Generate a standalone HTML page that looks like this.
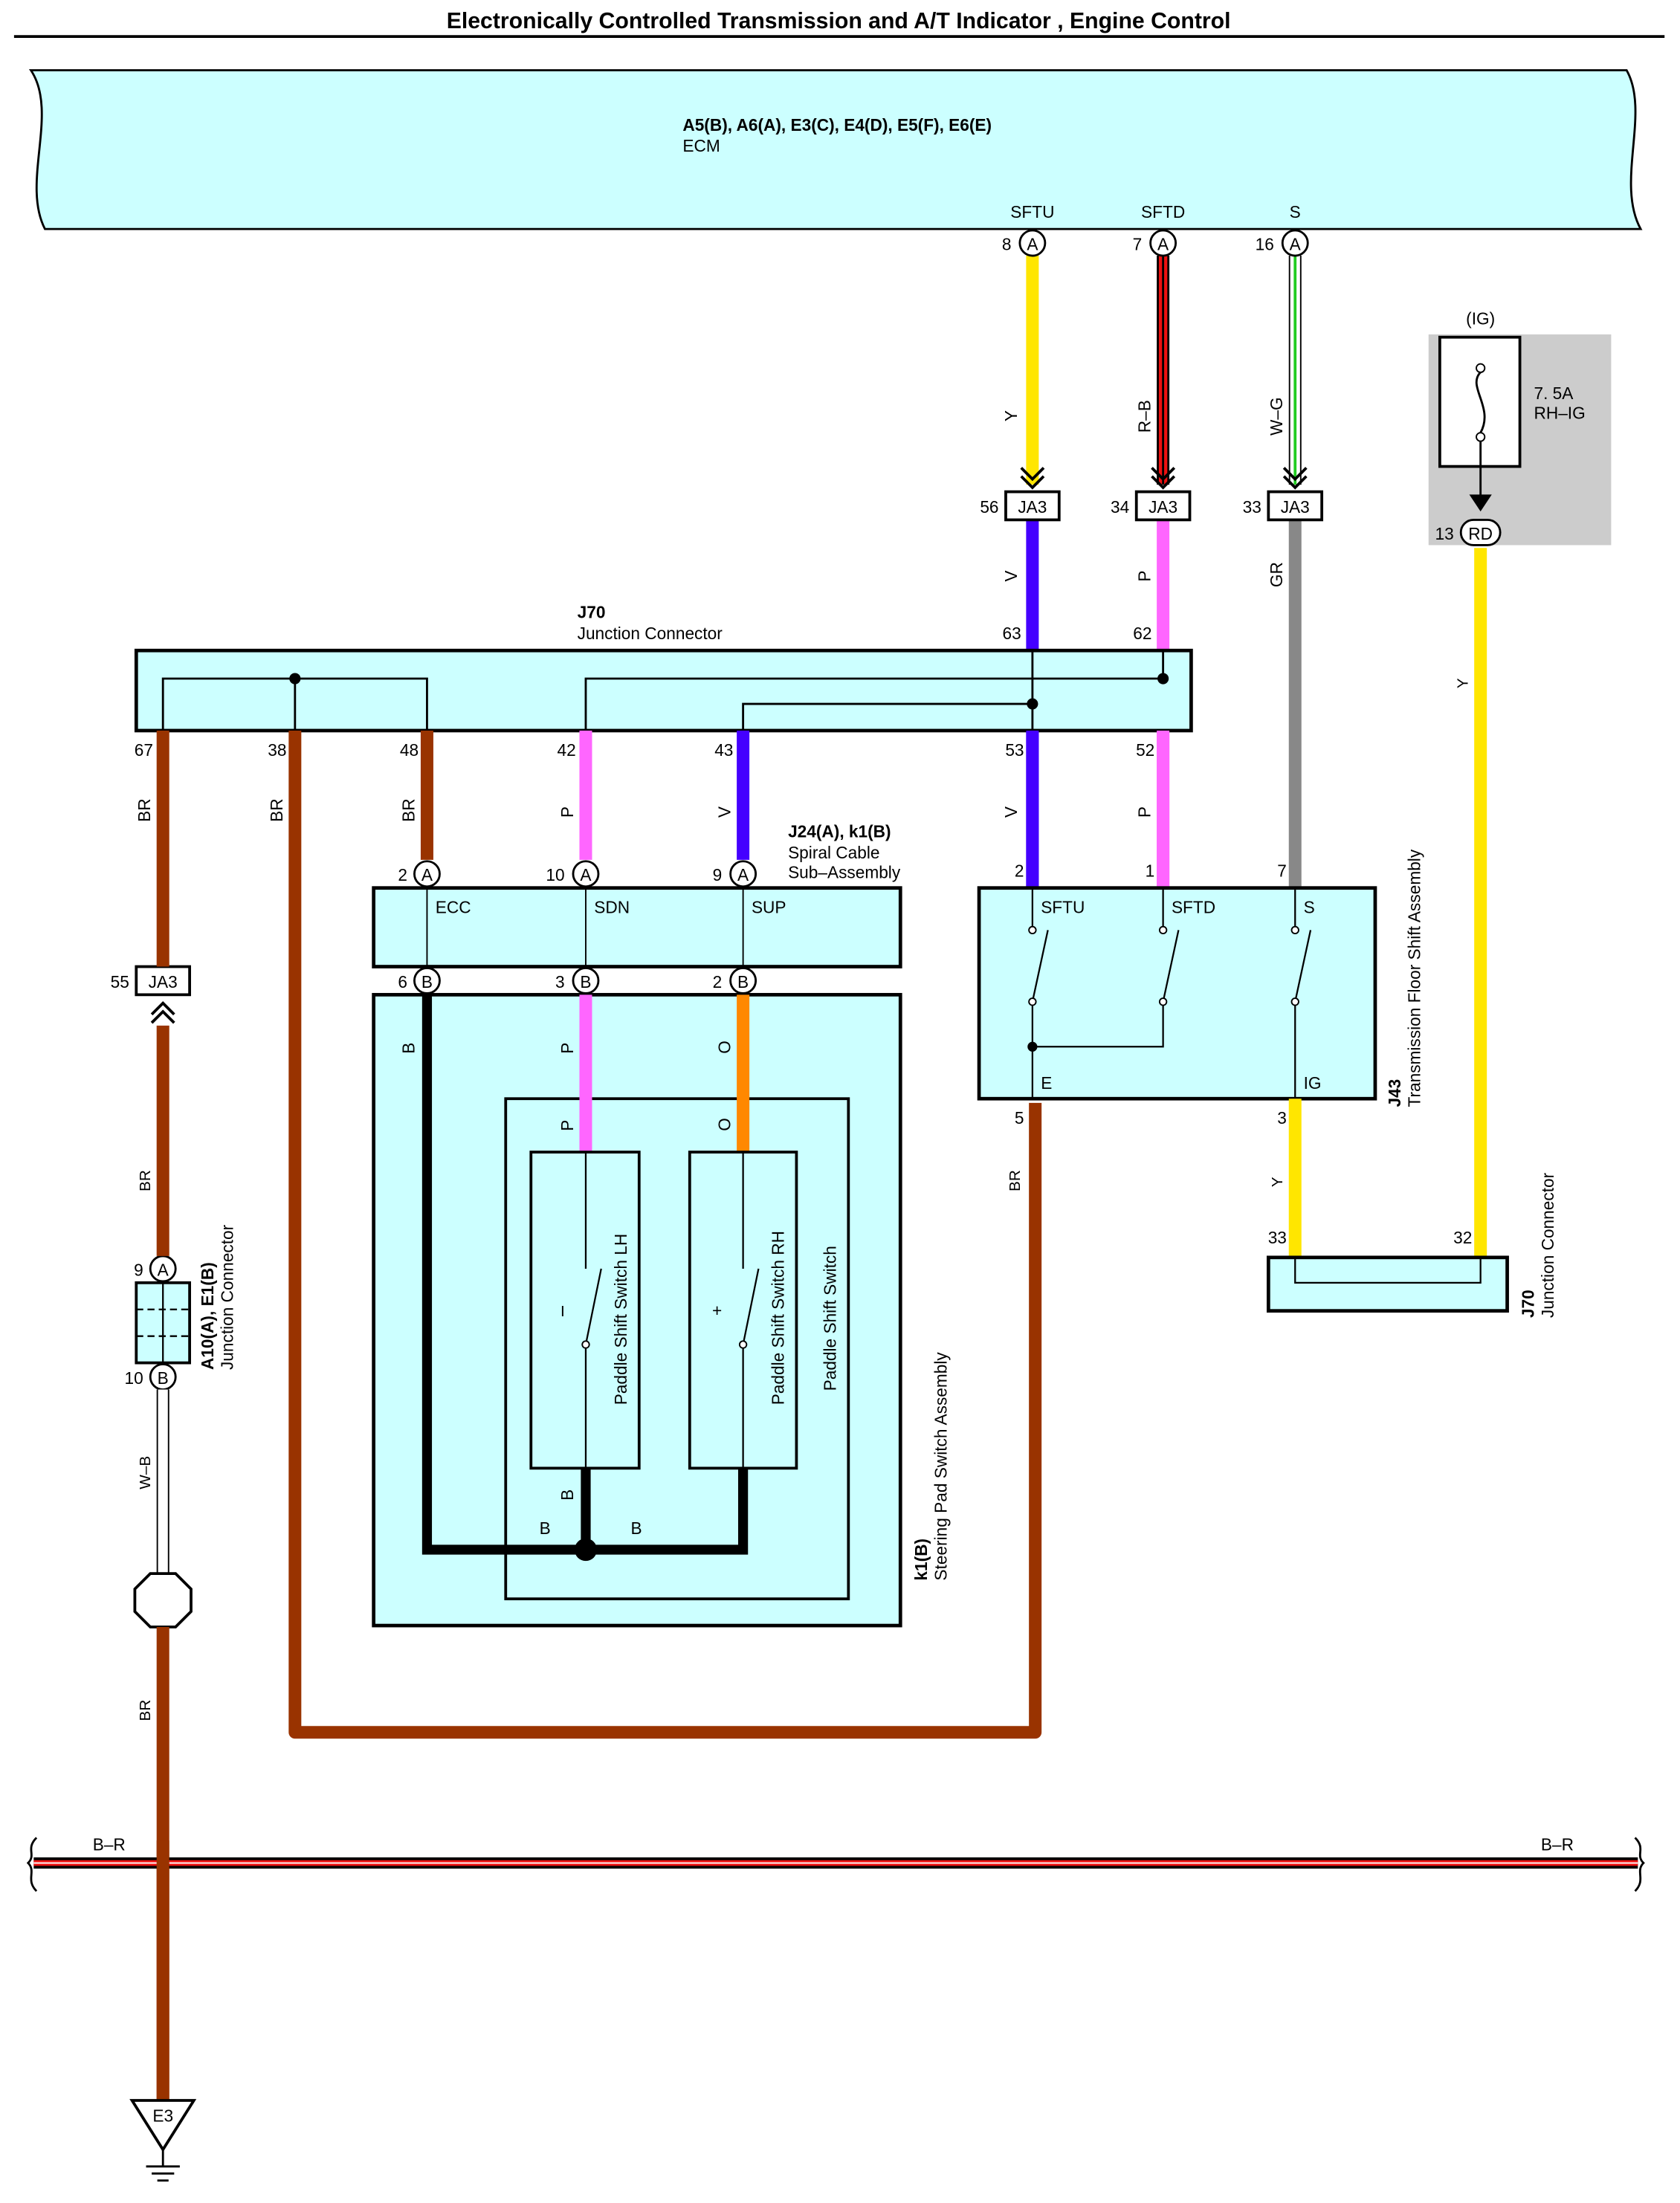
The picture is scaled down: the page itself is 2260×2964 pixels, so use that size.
<!DOCTYPE html>
<html><head><meta charset="utf-8"><style>
html,body{margin:0;padding:0;background:#fff;}
svg{display:block;}
text{font-family:"Liberation Sans",Arial,sans-serif;font-size:12px;fill:#000;}
.b{font-weight:bold;}
</style></head><body>
<svg width="2260" height="2964" viewBox="0 0 1196 1568" preserveAspectRatio="none" xmlns="http://www.w3.org/2000/svg">
<text x="597" y="20" text-anchor="middle" class="b" style="font-size:16px">Electronically Controlled Transmission and A/T Indicator , Engine Control</text>
<line x1="10" y1="26" x2="1185" y2="26" stroke="#000" stroke-width="2"/>
<path d="M32,50 L1158,50 C1175,80 1150,130 1168,163 L32,163 C15,130 42,80 22,50 Z" fill="#ccffff" stroke="#000" stroke-width="1.5"/>
<text x="486" y="93" class="b">A5(B), A6(A), E3(C), E4(D), E5(F), E6(E)</text>
<text x="486" y="108">ECM</text>
<text x="735" y="155" text-anchor="middle">SFTU</text>
<text x="828" y="155" text-anchor="middle">SFTD</text>
<text x="922" y="155" text-anchor="middle">S</text>
<line x1="735" y1="182" x2="735" y2="345" stroke="#ffe600" stroke-width="9"/>
<line x1="828" y1="182" x2="828" y2="345" stroke="#000" stroke-width="9"/>
<line x1="828" y1="182" x2="828" y2="345" stroke="#ee1111" stroke-width="6"/>
<line x1="828" y1="182" x2="828" y2="345" stroke="#000" stroke-width="1.5"/>
<line x1="922" y1="182" x2="922" y2="345" stroke="#000" stroke-width="9"/>
<line x1="922" y1="182" x2="922" y2="345" stroke="#fff" stroke-width="7"/>
<line x1="922" y1="182" x2="922" y2="345" stroke="#22cc22" stroke-width="2"/>
<g style="font-size:11px">
<text transform="translate(724,300) rotate(-90)">Y</text>
<text transform="translate(819,308) rotate(-90)">R–B</text>
<text transform="translate(913,310) rotate(-90)">W–G</text>
</g>
<g fill="none" stroke="#000" stroke-width="2">
<path d="M727,333 l8,8 l8,-8 M727,339 l8,8 l8,-8"/>
<path d="M820,333 l8,8 l8,-8 M820,339 l8,8 l8,-8"/>
<path d="M914,333 l8,8 l8,-8 M914,339 l8,8 l8,-8"/>
</g>
<g fill="#fff" stroke="#000" stroke-width="1.5">
<circle cx="735" cy="173" r="9"/><circle cx="828" cy="173" r="9"/><circle cx="922" cy="173" r="9"/>
</g>
<text x="735" y="178" text-anchor="middle">A</text><text x="828" y="178" text-anchor="middle">A</text><text x="922" y="178" text-anchor="middle">A</text>
<text x="720" y="178" text-anchor="end">8</text><text x="813" y="178" text-anchor="end">7</text><text x="907" y="178" text-anchor="end">16</text>
<line x1="735" y1="370" x2="735" y2="632" stroke="#4400ff" stroke-width="9"/>
<line x1="828" y1="370" x2="828" y2="632" stroke="#ff66ff" stroke-width="9"/>
<line x1="922" y1="370" x2="922" y2="632" stroke="#888" stroke-width="9"/>
<g style="font-size:11px">
<text transform="translate(724,414) rotate(-90)">V</text>
<text transform="translate(819,414) rotate(-90)">P</text>
<text transform="translate(913,418) rotate(-90)">GR</text>
<text transform="translate(724,582) rotate(-90)">V</text>
<text transform="translate(819,582) rotate(-90)">P</text>
</g>
<g fill="#fff" stroke="#000" stroke-width="2">
<rect x="716" y="350" width="38" height="20"/><rect x="809" y="350" width="38" height="20"/><rect x="903" y="350" width="38" height="20"/>
<rect x="97" y="688" width="38" height="20"/>
</g>
<text x="735" y="365" text-anchor="middle">JA3</text><text x="828" y="365" text-anchor="middle">JA3</text><text x="922" y="365" text-anchor="middle">JA3</text><text x="116" y="703" text-anchor="middle">JA3</text>
<text x="711" y="365" text-anchor="end">56</text><text x="804" y="365" text-anchor="end">34</text><text x="898" y="365" text-anchor="end">33</text><text x="92" y="703" text-anchor="end">55</text>
<rect x="1017" y="238" width="130" height="150" fill="#cccccc"/>
<text x="1054" y="231" text-anchor="middle">(IG)</text>
<rect x="1025" y="240" width="57" height="92" fill="#fff" stroke="#000" stroke-width="2"/>
<circle cx="1054" cy="262" r="3" fill="#fff" stroke="#000"/><circle cx="1054" cy="311" r="3" fill="#fff" stroke="#000"/>
<path d="M1054,265 C1044,275 1064,290 1054,308" fill="none" stroke="#000" stroke-width="1.5"/>
<text x="1092" y="284">7. 5A</text><text x="1092" y="298">RH–IG</text>
<line x1="1054" y1="314" x2="1054" y2="355" stroke="#000" stroke-width="1.5"/>
<path d="M1046,352 l8,12 l8,-12 Z" fill="#000"/>
<line x1="1054" y1="390" x2="1054" y2="895" stroke="#ffe600" stroke-width="9"/>
<rect x="1040" y="370" width="28" height="18" rx="9" fill="#fff" stroke="#000" stroke-width="1.5"/>
<text x="1054" y="384" text-anchor="middle">RD</text><text x="1035" y="384" text-anchor="end">13</text>
<text transform="translate(1045,490) rotate(-90)" style="font-size:11px">Y</text>
<text x="411" y="440" class="b">J70</text><text x="411" y="455">Junction Connector</text>
<text x="727" y="455" text-anchor="end">63</text><text x="820" y="455" text-anchor="end">62</text>
<rect x="97" y="463" width="751" height="57" fill="#ccffff" stroke="#000" stroke-width="2.5"/>
<g fill="none" stroke="#000" stroke-width="1.5">
<path d="M116,520 V483 H304 V520 M210,483 V520"/>
<path d="M417,520 V483 H828 V463 M529,520 V501 H735 M735,463 V520"/>
</g>
<circle cx="210" cy="483" r="4"/><circle cx="828" cy="483" r="4"/><circle cx="735" cy="501" r="4"/>
<g text-anchor="end">
<text x="109" y="538">67</text><text x="204" y="538">38</text><text x="298" y="538">48</text><text x="410" y="538">42</text><text x="522" y="538">43</text><text x="729" y="538">53</text><text x="822" y="538">52</text>
</g>
<line x1="116" y1="520" x2="116" y2="688" stroke="#993300" stroke-width="9"/>
<path d="M210,520 V1233 H737 V785" fill="none" stroke="#993300" stroke-width="9" stroke-linejoin="round"/>
<line x1="304" y1="520" x2="304" y2="612" stroke="#993300" stroke-width="9"/>
<line x1="417" y1="520" x2="417" y2="612" stroke="#ff66ff" stroke-width="9"/>
<line x1="529" y1="520" x2="529" y2="612" stroke="#4400ff" stroke-width="9"/>
<line x1="735" y1="520" x2="735" y2="632" stroke="#4400ff" stroke-width="9"/>
<line x1="828" y1="520" x2="828" y2="632" stroke="#ff66ff" stroke-width="9"/>
<g style="font-size:11px">
<text transform="translate(107,585) rotate(-90)">BR</text>
<text transform="translate(201,585) rotate(-90)">BR</text>
<text transform="translate(295,585) rotate(-90)">BR</text>
<text transform="translate(408,582) rotate(-90)">P</text>
<text transform="translate(520,582) rotate(-90)">V</text>
</g>
<text x="561" y="596" class="b">J24(A), k1(B)</text><text x="561" y="611">Spiral Cable</text><text x="561" y="625">Sub–Assembly</text>
<rect x="266" y="632" width="375" height="56" fill="#ccffff" stroke="#000" stroke-width="2.5"/>
<g stroke="#000" stroke-width="1"><line x1="304" y1="632" x2="304" y2="688"/><line x1="417" y1="632" x2="417" y2="688"/><line x1="529" y1="632" x2="529" y2="688"/></g>
<text x="310" y="650">ECC</text><text x="423" y="650">SDN</text><text x="535" y="650">SUP</text>
<rect x="266" y="708" width="375" height="449" fill="#ccffff" stroke="#000" stroke-width="2.5"/>
<rect x="360" y="782" width="244" height="356" fill="#ccffff" stroke="#000" stroke-width="2"/>
<line x1="417" y1="708" x2="417" y2="820" stroke="#ff66ff" stroke-width="9"/>
<line x1="529" y1="708" x2="529" y2="820" stroke="#ff8800" stroke-width="9"/>
<rect x="378" y="820" width="77" height="225" fill="#ccffff" stroke="#000" stroke-width="2"/>
<rect x="491" y="820" width="76" height="225" fill="#ccffff" stroke="#000" stroke-width="2"/>
<g stroke="#000" stroke-width="1.2" fill="none">
<path d="M417,820 V903 M417,957 V1045 M417,957 L428,903"/>
<path d="M529,820 V903 M529,957 V1045 M529,957 L540,903"/>
</g>
<circle cx="417" cy="957" r="2.5" fill="#fff" stroke="#000"/><circle cx="529" cy="957" r="2.5" fill="#fff" stroke="#000"/>
<text x="399" y="937" style="font-size:11px">I</text><text x="507" y="937">+</text>
<g style="font-size:12px">
<text transform="translate(446,1000) rotate(-90)">Paddle Shift Switch LH</text>
<text transform="translate(558,1000) rotate(-90)">Paddle Shift Switch RH</text>
<text transform="translate(595,990) rotate(-90)">Paddle Shift Switch</text>
<text transform="translate(660,1125) rotate(-90)" class="b">k1(B)</text>
<text transform="translate(674,1125) rotate(-90)">Steering Pad Switch Assembly</text>
</g>
<path d="M304,708 V1103 H529 V1045 M417,1045 V1103" fill="none" stroke="#000" stroke-width="7"/>
<circle cx="417" cy="1103" r="8"/>
<g style="font-size:11px">
<text transform="translate(295,750) rotate(-90)">B</text>
<text transform="translate(408,750) rotate(-90)">P</text>
<text transform="translate(520,750) rotate(-90)">O</text>
<text transform="translate(408,805) rotate(-90)">P</text>
<text transform="translate(520,805) rotate(-90)">O</text>
<text transform="translate(408,1068) rotate(-90)">B</text>
</g>
<text x="384" y="1092">B</text><text x="449" y="1092">B</text>
<g fill="#fff" stroke="#000" stroke-width="1.5">
<circle cx="304" cy="622" r="9"/><circle cx="417" cy="622" r="9"/><circle cx="529" cy="622" r="9"/>
<circle cx="304" cy="698" r="9"/><circle cx="417" cy="698" r="9"/><circle cx="529" cy="698" r="9"/>
<circle cx="116" cy="903" r="9"/><circle cx="116" cy="980" r="9"/>
</g>
<g text-anchor="middle"><text x="304" y="627">A</text><text x="417" y="627">A</text><text x="529" y="627">A</text>
<text x="304" y="703">B</text><text x="417" y="703">B</text><text x="529" y="703">B</text>
<text x="116" y="908">A</text><text x="116" y="985">B</text></g>
<g text-anchor="end"><text x="290" y="627">2</text><text x="402" y="627">10</text><text x="514" y="627">9</text>
<text x="290" y="703">6</text><text x="402" y="703">3</text><text x="514" y="703">2</text>
<text x="102" y="908">9</text><text x="102" y="985">10</text></g>
<rect x="697" y="632" width="282" height="150" fill="#ccffff" stroke="#000" stroke-width="2.5"/>
<text x="729" y="624" text-anchor="end">2</text><text x="822" y="624" text-anchor="end">1</text><text x="916" y="624" text-anchor="end">7</text>
<text x="741" y="650">SFTU</text><text x="834" y="650">SFTD</text><text x="928" y="650">S</text>
<g stroke="#000" stroke-width="1.2" fill="none">
<path d="M735,632 V660 M735,713 V782 M735,713 L746,662 M735,745 H828 V713 M828,632 V660 M828,713 L839,662 M922,632 V660 M922,713 V782 M922,713 L933,662"/>
</g>
<g fill="#fff" stroke="#000"><circle cx="735" cy="662" r="2.5"/><circle cx="735" cy="713" r="2.5"/><circle cx="828" cy="662" r="2.5"/><circle cx="828" cy="713" r="2.5"/><circle cx="922" cy="662" r="2.5"/><circle cx="922" cy="713" r="2.5"/></g>
<circle cx="735" cy="745" r="3.5"/>
<text x="741" y="775">E</text><text x="928" y="775">IG</text>
<text transform="translate(997,788) rotate(-90)" class="b">J43</text>
<text transform="translate(1011,788) rotate(-90)">Transmission Floor Shift Assembly</text>
<text x="729" y="800" text-anchor="end">5</text><text x="916" y="800" text-anchor="end">3</text>
<text transform="translate(726,848) rotate(-90)" style="font-size:11px">BR</text>
<line x1="922" y1="782" x2="922" y2="895" stroke="#ffe600" stroke-width="9"/>
<text transform="translate(913,845) rotate(-90)" style="font-size:11px">Y</text>
<text x="916" y="885" text-anchor="end">33</text><text x="1048" y="885" text-anchor="end">32</text>
<rect x="903" y="895" width="170" height="38" fill="#ccffff" stroke="#000" stroke-width="2.5"/>
<path d="M922,895 V913 H1054 V895" fill="none" stroke="#000" stroke-width="1.2"/>
<text transform="translate(1092,938) rotate(-90)" class="b">J70</text>
<text transform="translate(1106,938) rotate(-90)">Junction Connector</text>
<path d="M108,722 l8,-8 l8,8 M108,728 l8,-8 l8,8" fill="none" stroke="#000" stroke-width="2"/>
<line x1="116" y1="730" x2="116" y2="894" stroke="#993300" stroke-width="9"/>
<text transform="translate(107,848) rotate(-90)" style="font-size:11px">BR</text>
<rect x="97" y="913" width="38" height="57" fill="#ccffff" stroke="#000" stroke-width="2"/>
<g stroke="#000" stroke-width="1.2"><line x1="116" y1="913" x2="116" y2="970"/><line x1="97" y1="932" x2="135" y2="932" stroke-dasharray="5,3"/><line x1="97" y1="951" x2="135" y2="951" stroke-dasharray="5,3"/></g>
<text transform="translate(152,975) rotate(-90)" class="b">A10(A), E1(B)</text>
<text transform="translate(166,975) rotate(-90)">Junction Connector</text>
<line x1="116" y1="989" x2="116" y2="1120" stroke="#000" stroke-width="9"/>
<line x1="116" y1="989" x2="116" y2="1120" stroke="#fff" stroke-width="7"/>
<text transform="translate(107,1060) rotate(-90)" style="font-size:11px">W–B</text>
<polygon points="107,1120 125,1120 136,1131 136,1147 125,1158 107,1158 96,1147 96,1131" fill="#fff" stroke="#000" stroke-width="2"/>
<line x1="116" y1="1158" x2="116" y2="1495" stroke="#993300" stroke-width="9"/>
<text transform="translate(107,1225) rotate(-90)" style="font-size:11px">BR</text>
<line x1="24" y1="1326" x2="1166" y2="1326" stroke="#000" stroke-width="8"/>
<line x1="24" y1="1326" x2="1166" y2="1326" stroke="#ee1111" stroke-width="4"/>
<line x1="24" y1="1326" x2="1166" y2="1326" stroke="#fff" stroke-width="1"/>
<path d="M26,1308 C18,1316 26,1320 20,1326 C26,1332 18,1338 26,1346 M1164,1308 C1172,1316 1164,1320 1170,1326 C1164,1332 1172,1338 1164,1346" fill="none" stroke="#000" stroke-width="1.5"/>
<text x="66" y="1317">B–R</text><text x="1097" y="1317">B–R</text>
<line x1="116" y1="1310" x2="116" y2="1495" stroke="#993300" stroke-width="9"/>
<polygon points="94,1495 138,1495 116,1530" fill="#fff" stroke="#000" stroke-width="2"/>
<text x="116" y="1510" text-anchor="middle">E3</text>
<g stroke="#000" stroke-width="1.5"><line x1="116" y1="1530" x2="116" y2="1542"/><line x1="104" y1="1542" x2="128" y2="1542"/><line x1="108" y1="1547" x2="124" y2="1547"/><line x1="112" y1="1552" x2="120" y2="1552"/></g>
</svg>
</body></html>
